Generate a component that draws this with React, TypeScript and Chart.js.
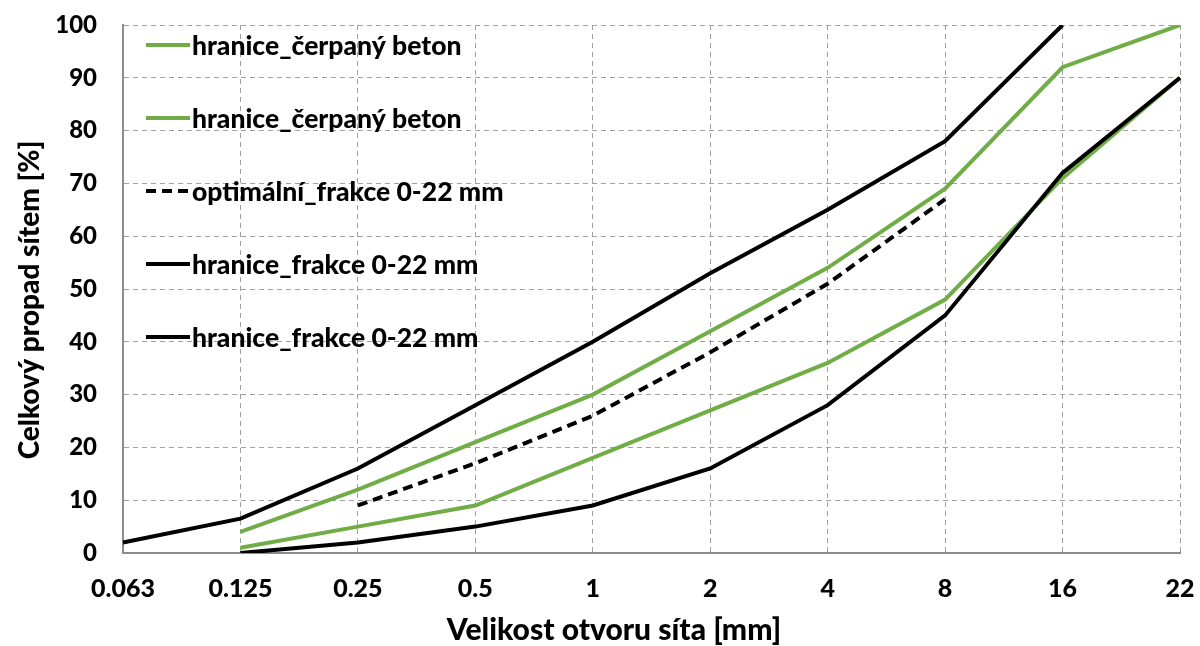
import { useEffect, useRef } from "react";
import { Chart, registerables } from "chart.js";

Chart.register(...registerables);

const sieveSizes = ["0.063", "0.125", "0.25", "0.5", "1", "2", "4", "8", "16", "22"];
const pumpUpper = [null, 4, 12, 21, 30, 42, 54, 69, 92, 100];
const pumpLower = [null, 1, 5, 9, 18, 27, 36, 48, 71, 90];
const optimal = [null, null, 9, 17, 26, 38, 51, 67, null, null];
const fractionUpper = [2, 6.5, 16, 28, 40, 53, 65, 78, 100, null];
const fractionLower = [null, 0, 2, 5, 9, 16, 28, 45, 72, 90];

const seriesLabels = [
  "hranice_čerpaný beton",
  "hranice_čerpaný beton",
  "optimální_frakce 0-22 mm",
  "hranice_frakce 0-22 mm",
  "hranice_frakce 0-22 mm",
];
const xTitle = "Velikost otvoru síta [mm]";
const yTitle = "Celkový propad sítem [%]";

const GREEN = "#70ad47";
const BLACK = "#000000";
const FONT = "Lato, 'Open Sans', sans-serif";
const WEIGHT = "900";

const insideLegend = {
  id: "insideLegend",
  afterDatasetsDraw(chart: any) {
    const { ctx, chartArea } = chart;
    ctx.save();
    ctx.font = `${WEIGHT} 26.5px ${FONT}`;
    ctx.textBaseline = "middle";
    ctx.textAlign = "left";
    chart.data.datasets.forEach((ds: any, i: number) => {
      const y = chartArea.top + 20 + i * 73;
      const x0 = chartArea.left + 23;
      const x1 = chartArea.left + 67;
      ctx.beginPath();
      ctx.strokeStyle = ds.borderColor;
      ctx.lineWidth = 4;
      ctx.setLineDash(ds.borderDash || []);
      ctx.moveTo(x0, y);
      ctx.lineTo(x1, y);
      ctx.stroke();
      ctx.setLineDash([]);
      ctx.fillStyle = "#000";
      ctx.fillText(ds.label, x1 + 2, y + 1);
    });
    ctx.restore();
  },
};

const axisTitles = {
  id: "axisTitles",
  afterDraw(chart: any) {
    const { ctx } = chart;
    ctx.save();
    ctx.fillStyle = "#000";
    ctx.textAlign = "center";
    ctx.textBaseline = "middle";
    ctx.font = `${WEIGHT} 30px ${FONT}`;
    ctx.fillText(xTitle, 614, 630);
    ctx.translate(30, 300);
    ctx.rotate(-Math.PI / 2);
    ctx.font = `${WEIGHT} 28px ${FONT}`;
    ctx.fillText(yTitle, 0, 0);
    ctx.restore();
  },
};

export default function App() {
  const canvasRef = useRef<HTMLCanvasElement | null>(null);

  useEffect(() => {
    const canvas = canvasRef.current;
    if (!canvas) return;
    const common = { borderWidth: 4, pointRadius: 0, tension: 0, fill: false, spanGaps: false };
    const chart = new Chart(canvas, {
      type: "line",
      data: {
        labels: sieveSizes,
        datasets: [
          { ...common, label: seriesLabels[0], data: pumpUpper, borderColor: GREEN, order: 1 },
          { ...common, label: seriesLabels[1], data: pumpLower, borderColor: GREEN, order: 1 },
          { ...common, label: seriesLabels[2], data: optimal, borderColor: BLACK, borderDash: [10, 6], order: 0 },
          { ...common, label: seriesLabels[3], data: fractionUpper, borderColor: BLACK, order: 0 },
          { ...common, label: seriesLabels[4], data: fractionLower, borderColor: BLACK, order: 0 },
        ],
      } as any,
      options: {
        animation: false,
        responsive: true,
        maintainAspectRatio: false,
        layout: { padding: { top: 25, right: 20, left: 0, bottom: 0 } },
        plugins: { legend: { display: false }, tooltip: { enabled: false } },
        scales: {
          x: {
            type: "category",
            offset: false,
            grid: { color: "#a0a0a0", lineWidth: 1, drawTicks: false },
            border: { display: true, color: "#8c8c8c", width: 2, dash: [5, 4] } as any,
            ticks: { color: "#000", font: { family: FONT, size: 25, weight: WEIGHT }, padding: 21, maxRotation: 0, autoSkip: false },
            title: { display: false },
            afterFit(scale: any) {
              scale.height = 93;
              scale.paddingLeft = 0;
              scale.paddingRight = 0;
            },
          },
          y: {
            min: 0,
            max: 100,
            grid: { color: "#a0a0a0", lineWidth: 1, drawTicks: false },
            border: { display: true, color: "#8c8c8c", width: 2, dash: [5, 4] } as any,
            ticks: { stepSize: 10, color: "#000", font: { family: FONT, size: 24, weight: WEIGHT }, padding: 26 },
            title: { display: false },
            afterFit(scale: any) {
              scale.width = 123;
              scale.paddingTop = 0;
              scale.paddingBottom = 0;
            },
          },
        },
      } as any,
      plugins: [insideLegend, axisTitles],
    });
    return () => chart.destroy();
  }, []);

  return (
    <div style={{ position: "absolute", left: 0, top: 0, width: 1200, height: 646, background: "#fff" }}>
      <canvas ref={canvasRef} />
    </div>
  );
}
